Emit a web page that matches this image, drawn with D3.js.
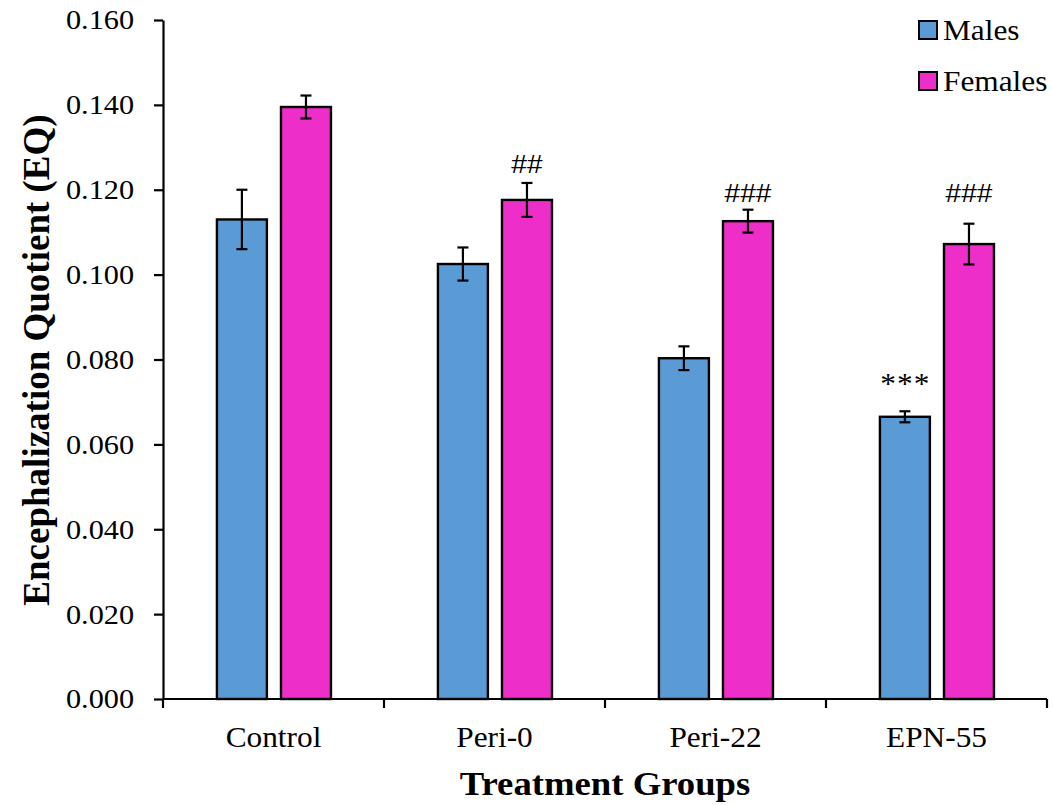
<!DOCTYPE html>
<html>
<head>
<meta charset="utf-8">
<script src="https://cdn.jsdelivr.net/npm/d3@7"></script>
<style>
  html, body { margin: 0; padding: 0; background: #fff; }
  svg { display: block; }
  text { font-family: "Liberation Serif", "Times New Roman", serif; fill: #000; }
</style>
</head>
<body>
<svg id="chart" width="1054" height="805"></svg>
<script>
// Treatment groups and series
const categories = ["Control", "Peri-0", "Peri-22", "EPN-55"];
const seriesNames = ["Males", "Females"];

// Mean encephalization quotient and standard error per group
const maleMeans   = [0.1130, 0.1025, 0.0803, 0.0665];
const maleErrors  = [0.0070, 0.0039, 0.0028, 0.0013];
const femaleMeans = [0.1395, 0.1176, 0.1126, 0.1072];
const femaleErrors = [0.0027, 0.0040, 0.0027, 0.0048];

// Significance markers and the value level they sit at
const maleMarks   = ["", "", "", "***"];
const maleMarkLevels = [null, null, null, 0.0722];
const femaleMarks = ["", "##", "###", "###"];
const femaleMarkLevels = [null, 0.1239, 0.1171, 0.1171];

// Y axis tick values
const yTicks = [0.000, 0.020, 0.040, 0.060, 0.080, 0.100, 0.120, 0.140, 0.160];

const colors = { Males: "#5B9BD5", Females: "#EE2EC8" };
const SX = 1.08; // horizontal stretch of the type

const svg = d3.select("#chart");
const plotLeft = 163, plotRight = 1047, plotTop = 20, plotBottom = 699;

const x0 = d3.scaleBand().domain(categories).range([plotLeft, plotRight]).padding(0);
const bw = x0.bandwidth();
const x1 = d3.scaleBand().domain(seriesNames)
  .range([bw * 0.244, bw * 0.760]).paddingInner(0.22);
const y = d3.scaleLinear().domain([0, 0.16]).range([plotBottom, plotTop]);

const series = [
  { name: "Males", means: maleMeans, errs: maleErrors, marks: maleMarks, levels: maleMarkLevels },
  { name: "Females", means: femaleMeans, errs: femaleErrors, marks: femaleMarks, levels: femaleMarkLevels }
];

const rows = [];
series.forEach(s => {
  categories.forEach((c, i) => {
    rows.push({ cat: c, name: s.name, v: s.means[i], e: s.errs[i], mark: s.marks[i], level: s.levels[i] });
  });
});

// Bars
svg.append("g").selectAll("rect").data(rows).join("rect")
  .attr("x", d => x0(d.cat) + x1(d.name))
  .attr("y", d => y(d.v))
  .attr("width", x1.bandwidth())
  .attr("height", d => y(0) - y(d.v))
  .attr("fill", d => colors[d.name])
  .attr("stroke", "#000")
  .attr("stroke-width", 2.4);

// Error bars
const cap = 5.5;
const eg = svg.append("g").attr("stroke", "#000").attr("stroke-width", 2.2);
rows.forEach(d => {
  const cx = x0(d.cat) + x1(d.name) + x1.bandwidth() / 2;
  eg.append("line").attr("x1", cx).attr("x2", cx)
    .attr("y1", y(d.v + d.e)).attr("y2", y(d.v - d.e));
  [d.v + d.e, d.v - d.e].forEach(val => {
    eg.append("line").attr("x1", cx - cap).attr("x2", cx + cap)
      .attr("y1", y(val)).attr("y2", y(val));
  });
});

// Significance markers: hashes in sans, asterisks in serif
const isStar = d => d.mark.startsWith("*");
svg.append("g").selectAll("text").data(rows.filter(d => d.mark)).join("text")
  .attr("transform", d => {
    const cx = x0(d.cat) + x1(d.name) + x1.bandwidth() / 2;
    return `translate(${cx},${y(d.level)}) scale(${SX},1)`;
  })
  .attr("text-anchor", "middle")
  .style("font-family", d => isStar(d)
    ? "'Liberation Serif', 'Times New Roman', serif"
    : "'Liberation Sans', Arial, sans-serif")
  .style("font-size", d => isStar(d) ? "29px" : "26px")
  .style("letter-spacing", d => isStar(d) ? "1px" : "0px")
  .attr("dx", d => isStar(d) ? 0.5 : 0)
  .text(d => d.mark);

// Y axis
const yAxis = svg.append("g")
  .attr("transform", `translate(${plotLeft},0)`)
  .call(d3.axisLeft(y).tickValues(yTicks).tickFormat(d3.format(".3f"))
    .tickSize(9).tickSizeOuter(0).tickPadding(20));
yAxis.select(".domain").attr("stroke-width", 2.2);
yAxis.selectAll(".tick line").attr("stroke-width", 2.2);
yAxis.selectAll(".tick text")
  .style("font-family", "'Liberation Serif', 'Times New Roman', serif")
  .style("font-size", "28px")
  .each(function () {
    const t = d3.select(this);
    const tx = +t.attr("x");
    t.attr("x", 0).attr("transform", `translate(${tx},0) scale(${SX},1)`);
  });

// X axis: baseline with ticks at the group boundaries
const xg = svg.append("g");
xg.append("line").attr("x1", plotLeft).attr("x2", plotRight)
  .attr("y1", plotBottom).attr("y2", plotBottom)
  .attr("stroke", "#000").attr("stroke-width", 2.2);
const bounds = categories.map(c => x0(c)).concat([x0(categories[categories.length - 1]) + bw]);
xg.selectAll("line.tk").data(bounds).join("line").attr("class", "tk")
  .attr("x1", d => d).attr("x2", d => d)
  .attr("y1", plotBottom).attr("y2", plotBottom + 9)
  .attr("stroke", "#000").attr("stroke-width", 2.2);
xg.selectAll("text").data(categories).join("text")
  .attr("transform", d => `translate(${x0(d) + bw / 2},747) scale(${SX},1)`)
  .attr("text-anchor", "middle")
  .style("font-size", "29px")
  .text(d => d);

// Axis titles
svg.append("text")
  .attr("transform", `translate(${(plotLeft + plotRight) / 2},795) scale(${SX},1)`)
  .attr("text-anchor", "middle")
  .style("font-size", "34px").style("font-weight", "bold")
  .text("Treatment Groups");

svg.append("text")
  .attr("transform", "translate(36,360) rotate(-90)")
  .attr("text-anchor", "middle")
  .attr("dy", "0.35em")
  .style("font-size", "37px").style("font-weight", "bold")
  .text("Encephalization Quotient (EQ)");

// Legend
const lg = svg.append("g");
seriesNames.forEach((n, i) => {
  const ly = 30 + i * 51;
  lg.append("rect").attr("x", 919).attr("y", ly - 9).attr("width", 18).attr("height", 18)
    .attr("fill", colors[n]).attr("stroke", "#000").attr("stroke-width", 2);
  lg.append("text")
    .attr("transform", `translate(943,${ly + 10}) scale(${SX},1)`)
    .style("font-size", "29px")
    .text(n);
});
</script>
</body>
</html>
